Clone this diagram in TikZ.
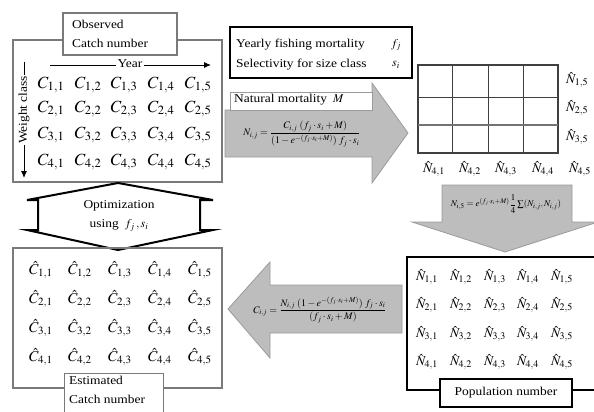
\documentclass[tikz,border=0pt]{standalone}
\usepackage{amsmath}
\usepackage{mathptmx}
\usepackage{fontspec}
\setmainfont{Liberation Serif}[FakeStretch=1.12]
\usetikzlibrary{arrows.meta}
\definecolor{arrowfill}{HTML}{BDBDBD}
\definecolor{arrowline}{HTML}{9A9A9A}
\definecolor{boxline}{HTML}{7A7A7A}
\begin{document}
\begin{tikzpicture}[x=1pt,y=-1pt,
  graybox/.style={draw=boxline,line width=1.2pt,inner sep=0pt},
  thickbox/.style={draw=black,line width=1.6pt,fill=white,inner sep=0pt},
  titlebox/.style={draw=boxline,line width=1.2pt,fill=white,inner sep=0pt},
  cell/.style={inner sep=0pt,font=\fontsize{17}{17}\selectfont},
  hcell/.style={inner sep=0pt,font=\fontsize{15}{15}\selectfont},
  ncell/.style={inner sep=0pt,font=\fontsize{13.5}{13.5}\selectfont},
  lbl/.style={inner sep=1pt,font=\fontsize{12}{19}\selectfont,align=left},
  bigarrow/.style={fill=arrowfill,draw=arrowline,line width=0.8pt},
  formula/.style={inner sep=0pt,font=\fontsize{10}{11}\selectfont},
  gridline/.style={draw=black!75,line width=1pt}]
\useasboundingbox (0,0) rectangle (594,412);
\clip (0,0) rectangle (594,412);

% ---------- Observed catch number ----------
\node[graybox,minimum width=209pt,minimum height=142pt] (obs) at (117.5,111) {};
\node[titlebox,minimum width=114pt,minimum height=42pt] (obstitle) at (120,34) {};
\node[lbl,anchor=west] (obstext) at (71,34) {Observed\\Catch number};
\coordinate (yearA) at (50,65);
\coordinate (yearB) at (211,65);
\draw[line width=0.9pt,-{Latex[length=7pt,width=6pt]}] (yearA) -- (yearB);
\node[lbl,fill=white,inner sep=2pt] (year) at (130,64) {Year};
\coordinate (wcA) at (24,62);
\coordinate (wcB) at (24,178);
\draw[line width=0.9pt,-{Latex[length=7pt,width=6pt]}] (wcA) -- (wcB);
\node[lbl,fill=white,rotate=90,inner sep=1pt] (wc) at (24,110) {Weight class};
\foreach \r/\y in {1/85,2/109,3/135,4/162}
  \foreach \c/\x in {1/51,2/88,3/124,4/161,5/198}
    \node[cell] (c\r\c) at (\x,\y) {$C_{\r,\c}$};

% ---------- Optimization double arrow ----------
\draw[draw=black,fill=white,line width=2pt,line join=miter]
  (118,183) -- (213,200) -- (200,200) -- (200,230) -- (213,230) -- (118,250)
  -- (27,230) -- (38,230) -- (38,200) -- (27,200) -- cycle;
\node[lbl,align=center] (opt) at (119,216) {Optimization\\using\enspace$f_j\,,s_i$};

% ---------- Estimated catch number ----------
\node[graybox,minimum width=209pt,minimum height=140pt] (est) at (117.5,318) {};
\foreach \r/\y in {1/270,2/299,3/328,4/357}
  \foreach \c/\x in {1/41,2/80,3/120,4/160,5/200}
    \node[hcell] (e\r\c) at (\x,\y) {$\hat{C}_{\r,\c}$};
\node[titlebox,minimum width=99pt,minimum height=48pt,anchor=north west] (esttitle) at (64,373) {};
\node[lbl,anchor=north west] (esttext) at (68,375) {Estimated\\Catch number};

% ---------- Yearly fishing mortality box ----------
\node[thickbox,minimum width=182pt,minimum height=51pt] (fbox) at (321,52.5) {};
\node[lbl,anchor=west] (ftext) at (235,45) {Yearly fishing mortality};
\node[lbl,anchor=west] (stext) at (235,65) {Selectivity for size class};
\node[lbl] (fsym) at (396,45) {$f_j$};
\node[lbl] (ssym) at (396,65) {$s_i$};

% ---------- Right arrow ----------
\draw[bigarrow] (225,110) -- (372,110) -- (372,83) -- (408,133) -- (372,183)
  -- (372,157) -- (225,157) -- cycle;
\node[draw=arrowline,fill=white,line width=0.8pt,minimum width=142pt,minimum height=18pt,inner sep=0pt] (nmbox) at (301,101) {};
\node[lbl,anchor=west] (nm) at (233,100) {Natural mortality\enspace$M$};
\node[formula] (f1) at (302,134)
  {$N_{i,j}=\dfrac{C_{i,j}\;(f_j\cdot s_i+M)}{(1-e^{-(f_j\cdot s_i+M)})\; f_j\cdot s_i}$};

% ---------- Top right grid ----------
\node[draw=black!75,line width=1.2pt,minimum width=140pt,minimum height=88pt,inner sep=0pt] (grid) at (488,109) {};
\foreach \x in {452,488,523} \draw[gridline] (\x,65) -- (\x,153);
\draw[gridline] (418,97) -- (558,97);
\draw[draw=black!55,line width=1.6pt] (418,125) -- (558,125);
\foreach \r/\y in {1/80,2/108,3/137}
  \node[ncell,anchor=west] (g\r) at (566,\y) {$\hat{N}_{\r,5}$};
\foreach \c/\x in {1/434,2/470,3/506,4/543,5/580}
  \node[ncell] (gb\c) at (\x,169) {$\hat{N}_{4,\c}$};

% ---------- Down arrow ----------
\draw[bigarrow] (442,185) -- (572,185) -- (572,222) -- (598,222) -- (505,252)
  -- (412,222) -- (442,222) -- cycle;
\node[formula,font=\fontsize{9}{10}\selectfont] (f2) at (506,204)
  {$N_{i,5}=e^{(f_j\cdot s_i+M)}\dfrac{1}{4}\sum(N_{i,j},N_{i,j})$};

% ---------- Population number ----------
\node[thickbox,fill=none,minimum width=200pt,minimum height=133pt] (pop) at (507,323.5) {};
\foreach \r/\y in {1/277,2/305,3/334,4/362}
  \foreach \c/\x in {1/427,2/461,3/495,4/528,5/562}
    \node[ncell] (n\r\c) at (\x,\y) {$\hat{N}_{\r,\c}$};
\node[thickbox,minimum width=132pt,minimum height=28pt] (poptitle) at (506,393) {};
\node[lbl] (poptext) at (506,393) {Population number};

% ---------- Left arrow ----------
\draw[bigarrow] (402,285) -- (270,285) -- (270,262) -- (228,309) -- (270,358)
  -- (270,333) -- (402,333) -- cycle;
\node[formula] (f3) at (320,310)
  {$C_{i,j}=\dfrac{N_{i,j}\;(1-e^{-(f_j\cdot s_i+M)})\; f_j\cdot s_i}{(f_j\cdot s_i+M)}$};
\end{tikzpicture}
\end{document}
